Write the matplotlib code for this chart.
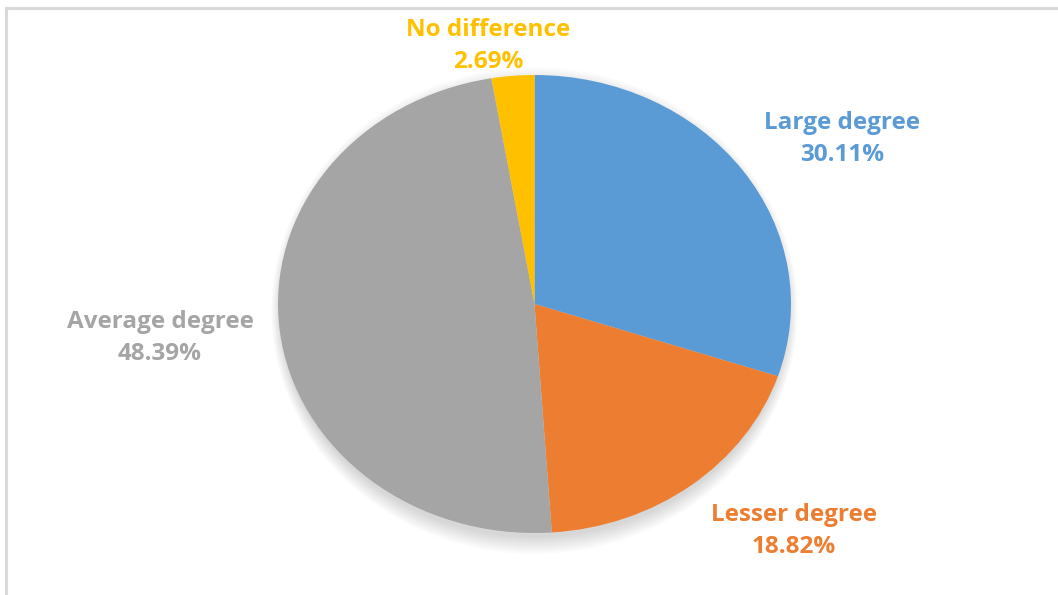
import matplotlib
matplotlib.use("Agg")
import matplotlib.pyplot as plt
from matplotlib.lines import Line2D
from matplotlib.patches import Ellipse

# survey answers, clockwise from 12 o'clock
labels = ["Large degree", "Lesser degree", "Average degree", "No difference"]
shares = [30.11, 18.82, 48.39, 2.69]
colors = ["#5B9BD5", "#ED7D31", "#A5A5A5", "#FFC000"]

# where each label block sits (pixels from top-left)
label_pos = [(842, 139), (794, 531), (160, 338), (488, 46)]

W, H = 1058, 595
fig = plt.figure(figsize=(W / 100, H / 100), dpi=100)
fig.patch.set_facecolor("white")

# thin frame on top and left
fig.add_artist(Line2D([6 / W, 1], [1 - 8 / H, 1 - 8 / H], color="#d9d9d9", lw=2.2))
fig.add_artist(Line2D([6 / W, 6 / W], [0, 1 - 8 / H], color="#d9d9d9", lw=2.2))

# pie box in pixels: left, top, right, bottom
x0, y0, x1, y1 = 278, 75, 791, 533
ax = fig.add_axes([x0 / W, 1 - y1 / H, (x1 - x0) / W, (y1 - y0) / H])
ax.set_xlim(-1, 1)
ax.set_ylim(-1, 1)
ax.axis("off")

# soft drop shadow
for i in range(10):
    ax.add_patch(Ellipse((0, -0.03), 1.98 + 0.008 * i, 1.98 + 0.016 * i,
                         color="black", alpha=0.014, lw=0, zorder=0,
                         clip_on=False))

ax.pie(shares, colors=colors, startangle=90, counterclock=False,
       radius=1, wedgeprops=dict(linewidth=0), frame=False)
ax.set_aspect("auto")
ax.set_xlim(-1, 1)
ax.set_ylim(-1, 1)

for name, val, col, (px, py) in zip(labels, shares, colors, label_pos):
    fig.text(px / W, 1 - py / H, f"{name}\n{val:.2f}%", color=col,
             fontsize=17.5, fontweight="bold", family="Open Sans",
             ha="center", va="center", linespacing=1.4)

fig.savefig("out.png", dpi=100)
